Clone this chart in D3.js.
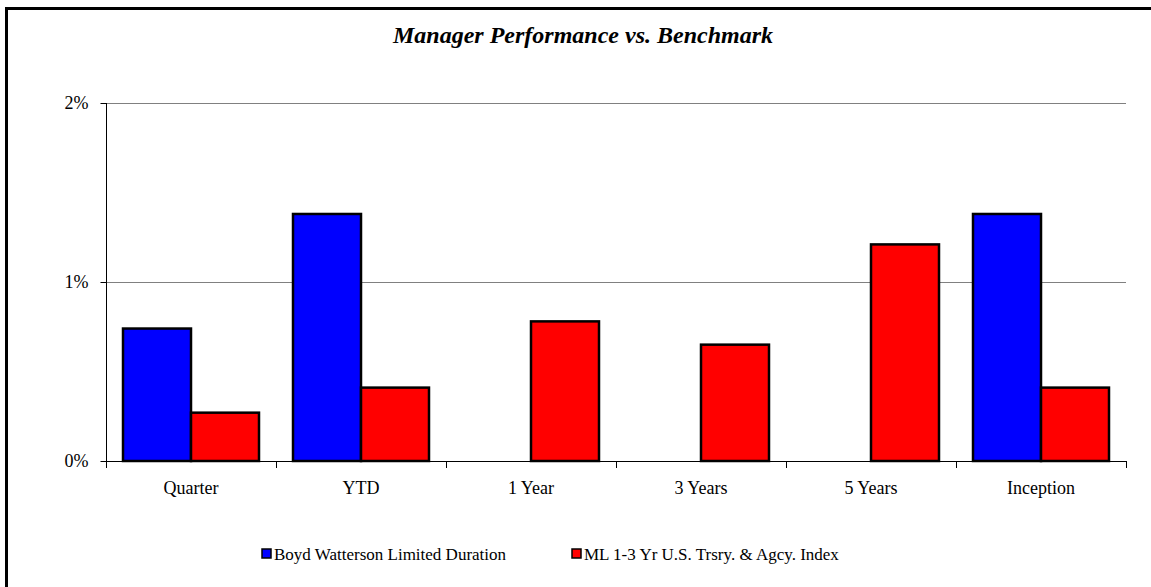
<!DOCTYPE html>
<html>
<head>
<meta charset="utf-8">
<script src="https://cdn.jsdelivr.net/npm/d3@7"></script>
<style>
  html, body { margin: 0; padding: 0; background: #fff; }
  svg text { font-family: "Liberation Serif", "Times New Roman", Times, "DejaVu Serif", serif; }
</style>
</head>
<body>
<svg id="chart" width="1151" height="587"></svg>
<script>
// Period returns (%) for the manager and its benchmark
const categories = ["Quarter", "YTD", "1 Year", "3 Years", "5 Years", "Inception"];
const managerReturns = [0.74, 1.38, null, null, null, 1.38];
const benchmarkReturns = [0.27, 0.41, 0.78, 0.65, 1.21, 0.41];
const seriesNames = ["Boyd Watterson Limited Duration", "ML 1-3 Yr U.S. Trsry. & Agcy. Index"];
const seriesColors = ["#0000ff", "#ff0000"];
const yTicks = [0, 1, 2];

const SERIF = '"Liberation Serif", "Times New Roman", Times, "DejaVu Serif", serif';
const svg = d3.select("#chart");
const plot = { left: 106, right: 1126, top: 103, bottom: 461 };

// Outer frame (left and top edges)
svg.append("line").attr("x1", 6.5).attr("x2", 6.5).attr("y1", 7).attr("y2", 587)
  .attr("stroke", "#000").attr("stroke-width", 3);
svg.append("line").attr("x1", 5).attr("x2", 1151).attr("y1", 8.5).attr("y2", 8.5)
  .attr("stroke", "#000").attr("stroke-width", 3);

// Title
svg.append("text")
  .attr("x", 583).attr("y", 43)
  .attr("text-anchor", "middle")
  .attr("font-family", SERIF)
  .attr("font-size", 24).attr("font-weight", "bold").attr("font-style", "italic")
  .text("Manager Performance vs. Benchmark");

const x = d3.scaleBand().domain(categories).range([plot.left, plot.right]).padding(0);
const y = d3.scaleLinear().domain([0, 2]).range([plot.bottom, plot.top]);

// Horizontal gridlines
svg.append("g").selectAll("line").data(yTicks.filter(d => d > 0)).join("line")
  .attr("x1", plot.left).attr("x2", plot.right)
  .attr("y1", d => y(d) + 0.5).attr("y2", d => y(d) + 0.5)
  .attr("stroke", "#808080").attr("stroke-width", 1);

// Y axis
const yAxis = d3.axisLeft(y).tickValues(yTicks).tickFormat(d => d + "%").tickSize(6).tickPadding(12);
const gy = svg.append("g").attr("transform", `translate(${plot.left + 0.5},0)`).call(yAxis)
  .attr("font-family", SERIF).attr("font-size", 18);
gy.select(".domain").attr("d", `M0,${plot.top}V${plot.bottom}`).attr("stroke", "#000");
gy.selectAll(".tick line").attr("stroke", "#000");
gy.selectAll(".tick text").attr("fill", "#000");

// Bars
const barW = x.bandwidth() * 0.4;
const barOff = x.bandwidth() * 0.1;
const series = [managerReturns, benchmarkReturns];
series.forEach((vals, si) => {
  svg.append("g").selectAll("rect")
    .data(categories.map((c, i) => ({ c, v: vals[i] })).filter(d => d.v != null))
    .join("rect")
    .attr("x", d => x(d.c) + barOff + si * barW)
    .attr("y", d => y(d.v))
    .attr("width", barW)
    .attr("height", d => y(0) - y(d.v))
    .attr("fill", seriesColors[si])
    .attr("stroke", "#000").attr("stroke-width", 2.5);
});

// X axis with ticks at category boundaries
svg.append("line").attr("x1", plot.left).attr("x2", plot.right)
  .attr("y1", plot.bottom + 0.5).attr("y2", plot.bottom + 0.5).attr("stroke", "#000");
const boundaries = categories.map(c => x(c)).concat([plot.right]);
svg.append("g").selectAll("line").data(boundaries).join("line")
  .attr("x1", d => d + 0.5).attr("x2", d => d + 0.5)
  .attr("y1", plot.bottom).attr("y2", plot.bottom + 7)
  .attr("stroke", "#000");
svg.append("g").selectAll("text").data(categories).join("text")
  .attr("x", d => x(d) + x.bandwidth() / 2)
  .attr("y", 494)
  .attr("text-anchor", "middle")
  .attr("font-family", SERIF)
  .attr("font-size", 18)
  .text(d => d);

// Legend
const legendX = [262, 572];
seriesNames.forEach((name, i) => {
  const g = svg.append("g").attr("transform", `translate(${legendX[i]},549)`);
  g.append("rect").attr("x", 0).attr("y", 0).attr("width", 9).attr("height", 9)
    .attr("fill", seriesColors[i]).attr("stroke", "#000").attr("stroke-width", 1.5);
  g.append("text").attr("x", 12).attr("y", 11).attr("font-family", SERIF).attr("font-size", 17).text(name);
});
</script>
</body>
</html>
